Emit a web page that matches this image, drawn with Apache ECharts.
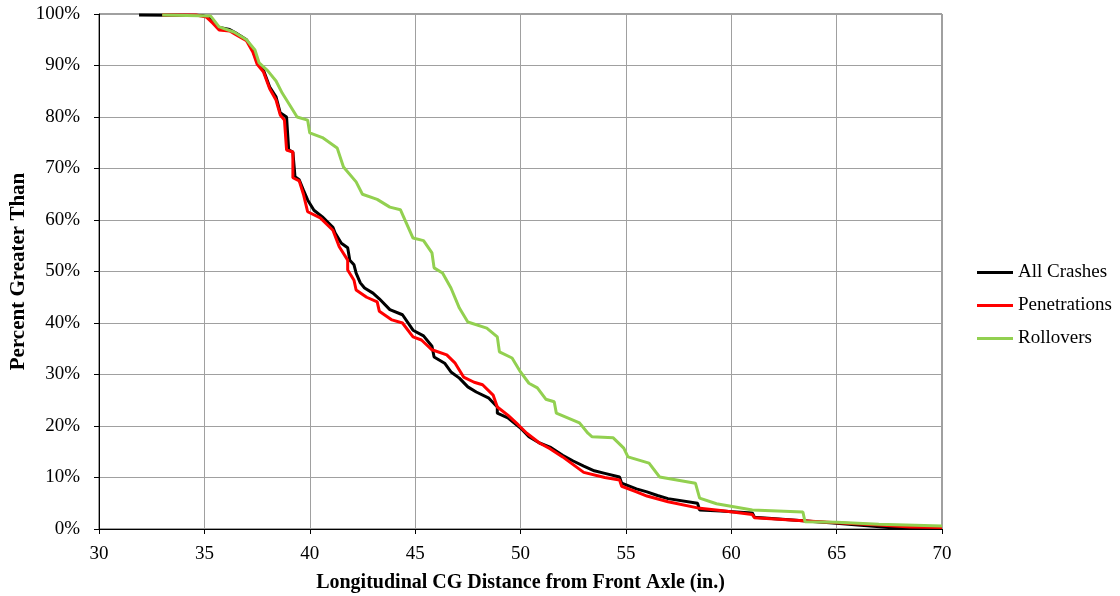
<!DOCTYPE html>
<html><head><meta charset="utf-8">
<script src="https://cdn.jsdelivr.net/npm/echarts@6/dist/echarts.min.js"></script>
<style>html,body{margin:0;padding:0;background:#fff}#c{width:1120px;height:596px}</style>
</head><body><div id="c"></div>
<script>
const seriesNames = ["All Crashes", "Penetrations", "Rollovers"];
const xTicks = [30, 35, 40, 45, 50, 55, 60, 65, 70];
const yTicks = [0, 10, 20, 30, 40, 50, 60, 70, 80, 90, 100];

const allCrashes = [
 [31.9,99.8],[34.9,99.7],[35.3,99.2],[35.6,97.5],[36.2,97.0],[36.5,96.3],[37.0,95.0],[37.3,93.0],[37.5,90.7],
 [37.8,89.1],[38.1,85.8],[38.4,83.9],[38.6,80.8],[38.9,80.0],[39.0,73.6],[39.2,73.2],[39.3,68.4],[39.5,67.8],
 [39.7,65.8],[39.9,63.9],[40.2,61.9],[40.6,60.6],[41.1,58.6],[41.2,57.5],[41.5,55.5],[41.8,54.6],[41.9,52.2],
 [42.1,51.3],[42.2,49.7],[42.4,47.8],[42.6,46.8],[43.0,45.8],[43.3,44.7],[43.8,42.6],[44.4,41.6],[44.9,38.6],
 [45.4,37.5],[45.8,35.5],[45.9,33.4],[46.4,32.2],[46.7,30.5],[47.1,29.3],[47.5,27.6],[47.9,26.6],[48.5,25.4],
 [48.9,23.7],[48.9,22.5],[49.4,21.6],[50.0,19.6],[50.4,17.9],[50.9,16.7],[51.4,15.9],[52.0,14.3],[52.5,13.2],
 [53.0,12.2],[53.5,11.3],[54.0,10.8],[54.7,10.1],[54.8,8.9],[55.5,7.8],[56.0,7.2],[56.5,6.5],[57.0,5.9],
 [58.4,5.0],[58.5,3.7],[59.5,3.5],[61.0,3.1],[61.1,2.3],[63.4,1.6],[65.0,1.1],[66.0,0.8],[67.2,0.4],[68.0,0.1],[70.0,0.1]
];
const penetrations = [
 [33.0,99.8],[34.6,99.8],[35.1,99.4],[35.4,98.2],[35.7,96.9],[36.2,96.7],[36.5,96.0],[37.0,94.8],[37.3,92.6],
 [37.5,90.3],[37.8,88.8],[38.1,85.5],[38.4,83.3],[38.6,80.4],[38.8,79.4],[38.9,73.6],[39.2,73.2],[39.2,68.2],
 [39.5,67.6],[39.7,65.0],[39.9,61.6],[40.5,60.4],[41.1,58.0],[41.4,54.8],[41.8,52.2],[41.8,50.3],[42.1,48.3],
 [42.2,46.4],[42.7,45.0],[43.2,44.1],[43.3,42.3],[43.9,40.6],[44.4,40.0],[44.9,37.3],[45.3,36.7],[45.8,34.8],
 [46.5,33.8],[46.9,32.2],[47.3,29.5],[47.8,28.5],[48.2,28.0],[48.7,26.0],[48.9,23.7],[49.4,22.1],[49.9,20.2],
 [50.3,18.6],[50.9,16.7],[51.4,15.6],[52.0,14.0],[53.0,11.0],[54.0,10.0],[54.7,9.5],[54.8,8.3],[55.5,7.2],
 [56.0,6.4],[57.0,5.3],[58.4,4.1],[59.5,3.6],[61.0,2.8],[61.1,2.2],[63.4,1.6],[65.0,1.2],[67.0,0.8],[68.5,0.4],[70.0,0.3]
];
const rollovers = [
 [33.0,99.8],[35.3,99.6],[35.7,97.5],[36.4,96.5],[37.0,95.0],[37.4,93.0],[37.6,90.5],[38.0,89.0],[38.4,87.0],
 [38.7,84.6],[39.1,82.0],[39.4,80.0],[39.9,79.4],[40.0,76.9],[40.6,76.0],[41.3,74.0],[41.6,70.3],[42.2,67.4],
 [42.5,65.0],[43.2,64.0],[43.8,62.5],[44.3,62.0],[44.9,56.5],[45.4,56.0],[45.8,53.6],[45.9,50.7],[46.3,49.7],
 [46.7,46.8],[47.1,42.9],[47.5,40.2],[48.4,39.0],[48.9,37.3],[49.0,34.4],[49.6,33.2],[50.0,30.5],[50.4,28.3],
 [50.8,27.4],[51.2,25.2],[51.6,24.7],[51.7,22.5],[52.8,20.6],[53.2,18.6],[53.4,17.9],[54.4,17.7],[54.9,15.7],
 [55.1,14.0],[56.1,12.8],[56.6,10.1],[58.3,8.9],[58.5,6.0],[59.3,4.9],[61.0,3.7],[63.4,3.3],[63.5,1.4],
 [65.0,1.3],[67.0,0.9],[70.0,0.6]
];

const font = '"Liberation Serif", "Times New Roman", serif';
const chart = echarts.init(document.getElementById('c'), null, {renderer: 'canvas'});
const colors = ['#000000', '#FF0000', '#92D050'];
const datasets = [allCrashes, penetrations, rollovers];
chart.setOption({
  animation: false,
  backgroundColor: '#ffffff',
  grid: {left: 99, right: 178, top: 14, bottom: 67, show: true, borderColor: '#404040', borderWidth: 1,
         containLabel: false, outerBoundsMode: 'none'},
  legend: {
    orient: 'vertical', left: 972, top: 258,
    itemWidth: 36, itemHeight: 3, itemGap: 14,
    icon: 'rect',
    textStyle: {fontFamily: font, fontSize: 19, color: '#000'},
    data: seriesNames
  },
  xAxis: {
    type: 'value', min: xTicks[0], max: xTicks[xTicks.length - 1], interval: 5,
    name: 'Longitudinal CG Distance from Front Axle (in.)', nameLocation: 'middle', nameGap: 44,
    nameMoveOverlap: false,
    nameTextStyle: {fontFamily: font, fontSize: 20, fontWeight: 'bold', color: '#000'},
    axisLine: {show: true, lineStyle: {color: '#000', width: 1}},
    axisTick: {show: true, length: 5, lineStyle: {color: '#000'}},
    axisLabel: {fontFamily: font, fontSize: 19, color: '#000', margin: 16},
    splitLine: {show: true, lineStyle: {color: '#A0A0A0', width: 1}}
  },
  yAxis: {
    type: 'value', min: yTicks[0], max: yTicks[yTicks.length - 1], interval: 10,
    name: 'Percent Greater Than', nameLocation: 'middle', nameGap: 70,
    nameMoveOverlap: false,
    nameTextStyle: {fontFamily: font, fontSize: 21, fontWeight: 'bold', color: '#000'},
    axisLine: {show: true, lineStyle: {color: '#000', width: 1}},
    axisTick: {show: true, length: 5, lineStyle: {color: '#000'}},
    axisLabel: {fontFamily: font, fontSize: 19, color: '#000', margin: 19, formatter: v => v + '%'},
    splitLine: {show: true, lineStyle: {color: '#A0A0A0', width: 1}}
  },
  series: seriesNames.map((n, i) => ({
    name: n, type: 'line', data: datasets[i], showSymbol: false, symbol: 'none',
    lineStyle: {color: colors[i], width: 3}, itemStyle: {color: colors[i]}, z: 2 + i
  }))
});
</script></body></html>
